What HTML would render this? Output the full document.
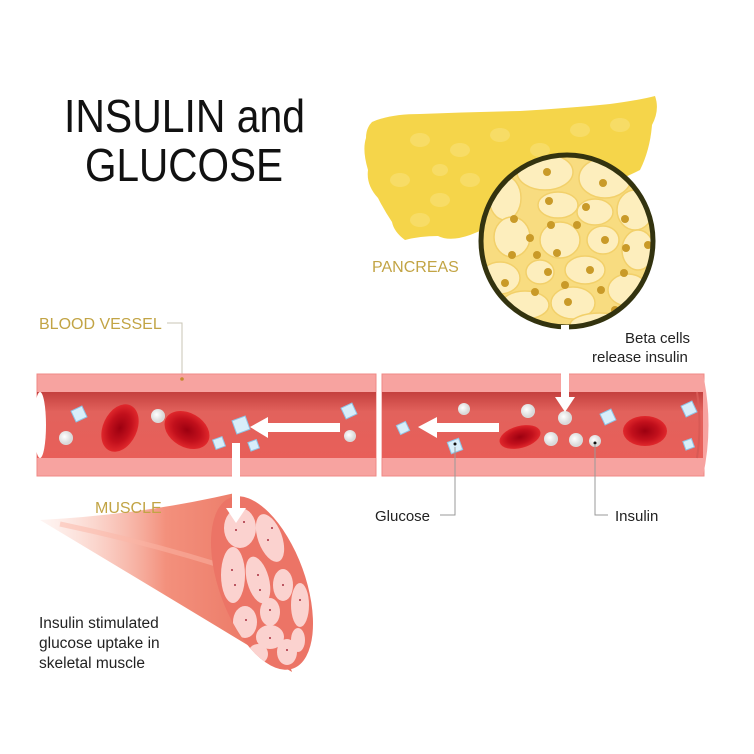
<!DOCTYPE html>
<html><head><meta charset="utf-8"><style>
html,body{margin:0;padding:0;background:#fff;}
svg{display:block;}
text{font-family:"Liberation Sans",sans-serif;}
</style></head><body>
<svg width="754" height="754" viewBox="0 0 754 754" xmlns="http://www.w3.org/2000/svg">
<defs>
<linearGradient id="cone" x1="0" y1="0" x2="1" y2="0">
<stop offset="0" stop-color="#fbd0c4" stop-opacity="0.2"/>
<stop offset="0.5" stop-color="#f3907c"/>
<stop offset="1" stop-color="#e8705e"/>
</linearGradient>
<linearGradient id="lumen" x1="0" y1="0" x2="0" y2="1">
<stop offset="0" stop-color="#c4403e"/>
<stop offset="0.3" stop-color="#e2625c"/>
<stop offset="1" stop-color="#e85f59"/>
</linearGradient>
<radialGradient id="rbc"><stop offset="0" stop-color="#9c0010"/><stop offset="0.6" stop-color="#c2101c"/><stop offset="1" stop-color="#e0282c"/></radialGradient>
<radialGradient id="ball" cx="0.4" cy="0.4"><stop offset="0" stop-color="#fff"/><stop offset="1" stop-color="#d9d9d9"/></radialGradient>
<clipPath id="cc"><circle cx="567" cy="241" r="86"/></clipPath>
<clipPath id="mc"><ellipse cx="262" cy="583" rx="43" ry="91" transform="rotate(-20 262 583)"/></clipPath>
</defs>

<text x="64" y="132" font-size="46" fill="#111" textLength="241" lengthAdjust="spacingAndGlyphs">INSULIN and</text>
<text x="85" y="181" font-size="46" fill="#111" textLength="198" lengthAdjust="spacingAndGlyphs">GLUCOSE</text>

<!-- pancreas -->
<path d="M372 122 Q390 114 420 114 Q470 112 520 111 Q570 108 610 104 Q640 100 655 96 Q660 110 652 125 Q650 150 640 170 Q600 190 520 215 L470 235 Q450 242 438 236 Q420 236 405 240 Q394 232 392 222 Q384 210 378 198 Q366 185 368 170 Q362 150 366 138 Q366 128 372 122Z" fill="#f5d54a"/>
<g fill="#f9e27a" opacity="0.6">
<ellipse cx="420" cy="140" rx="10" ry="7"/><ellipse cx="460" cy="150" rx="10" ry="7"/><ellipse cx="500" cy="135" rx="10" ry="7"/>
<ellipse cx="540" cy="150" rx="10" ry="7"/><ellipse cx="580" cy="130" rx="10" ry="7"/><ellipse cx="620" cy="125" rx="10" ry="7"/>
<ellipse cx="400" cy="180" rx="10" ry="7"/><ellipse cx="440" cy="200" rx="10" ry="7"/><ellipse cx="420" cy="220" rx="10" ry="7"/>
<ellipse cx="470" cy="180" rx="10" ry="7"/><ellipse cx="440" cy="170" rx="8" ry="6"/>
</g>
<text x="372" y="272" font-size="16" fill="#c2a445">PANCREAS</text>

<!-- zoom circle -->
<circle cx="567" cy="241" r="86" fill="#f8dc80"/>
<g clip-path="url(#cc)" fill="#fdeebd" stroke="#f2d06a" stroke-width="1.5">
<ellipse cx="545" cy="172" rx="28" ry="18"/><ellipse cx="605" cy="178" rx="26" ry="20"/>
<ellipse cx="505" cy="198" rx="16" ry="22"/><ellipse cx="558" cy="205" rx="20" ry="13"/>
<ellipse cx="595" cy="212" rx="18" ry="13"/><ellipse cx="635" cy="210" rx="18" ry="20"/>
<ellipse cx="512" cy="237" rx="18" ry="20"/><ellipse cx="560" cy="240" rx="20" ry="18"/>
<ellipse cx="603" cy="240" rx="16" ry="14"/><ellipse cx="638" cy="250" rx="16" ry="20"/>
<ellipse cx="500" cy="278" rx="20" ry="16"/><ellipse cx="540" cy="272" rx="14" ry="12"/>
<ellipse cx="585" cy="270" rx="20" ry="14"/><ellipse cx="628" cy="290" rx="20" ry="16"/>
<ellipse cx="525" cy="305" rx="24" ry="14"/><ellipse cx="573" cy="303" rx="22" ry="16"/>
<ellipse cx="600" cy="325" rx="30" ry="12"/>
</g>
<g fill="#c99a28">
<circle cx="547" cy="172" r="4"/><circle cx="603" cy="183" r="4"/><circle cx="549" cy="201" r="4"/>
<circle cx="586" cy="207" r="4"/><circle cx="514" cy="219" r="4"/><circle cx="551" cy="225" r="4"/>
<circle cx="577" cy="225" r="4"/><circle cx="625" cy="219" r="4"/><circle cx="530" cy="238" r="4"/>
<circle cx="605" cy="240" r="4"/><circle cx="512" cy="255" r="4"/><circle cx="537" cy="255" r="4"/>
<circle cx="557" cy="253" r="4"/><circle cx="590" cy="270" r="4"/><circle cx="626" cy="248" r="4"/>
<circle cx="505" cy="283" r="4"/><circle cx="548" cy="272" r="4"/><circle cx="565" cy="285" r="4"/>
<circle cx="535" cy="292" r="4"/><circle cx="601" cy="290" r="4"/><circle cx="624" cy="273" r="4"/>
<circle cx="568" cy="302" r="4"/><circle cx="615" cy="310" r="4"/><circle cx="648" cy="245" r="4"/>
</g>
<circle cx="567" cy="241" r="86" fill="none" stroke="#33330f" stroke-width="5"/>

<text x="625" y="343" font-size="15" fill="#222">Beta cells</text>
<text x="592" y="362" font-size="15" fill="#222">release insulin</text>

<text x="39" y="329" font-size="16" fill="#c2a445">BLOOD VESSEL</text>
<polyline points="167,323 182,323 182,379" stroke="#c8c4b4" stroke-width="1" fill="none"/>

<!-- vessel left -->
<rect x="37" y="374" width="339" height="102" fill="#f7a3a0" stroke="#ef8a86" stroke-width="1"/>
<rect x="37" y="392" width="339" height="66" fill="url(#lumen)"/>
<ellipse cx="40" cy="425" rx="6" ry="33" fill="#fff"/>
<!-- vessel right -->
<rect x="382" y="374" width="322" height="102" fill="#f7a3a0" stroke="#ef8a86" stroke-width="1"/>
<rect x="382" y="392" width="322" height="66" fill="url(#lumen)"/>
<path d="M703 374 Q714 425 703 476Z" fill="#f7a3a0"/>
<path d="M697 392 Q702 425 697 458" stroke="#d85a55" stroke-width="2" fill="none"/>
<circle cx="182" cy="379" r="1.8" fill="#c48a30"/>

<!-- RBCs -->
<ellipse cx="120" cy="428" rx="17" ry="25" transform="rotate(25 120 428)" fill="url(#rbc)"/>
<ellipse cx="187" cy="430" rx="24" ry="17" transform="rotate(30 187 430)" fill="url(#rbc)"/>
<ellipse cx="520" cy="437" rx="21" ry="11" transform="rotate(-15 520 437)" fill="url(#rbc)"/>
<ellipse cx="645" cy="431" rx="22" ry="15" fill="url(#rbc)"/>

<!-- insulin balls -->
<g fill="url(#ball)">
<circle cx="66" cy="438" r="7"/><circle cx="158" cy="416" r="7"/><circle cx="350" cy="436" r="6"/>
<circle cx="464" cy="409" r="6"/><circle cx="528" cy="411" r="7"/><circle cx="565" cy="418" r="7"/>
<circle cx="551" cy="439" r="7"/><circle cx="576" cy="440" r="7"/><circle cx="595" cy="441" r="6"/>
</g>
<circle cx="595" cy="443" r="1.5" fill="#111"/>
<!-- glucose cubes -->
<g fill="#d8eefa" stroke="#8fc4e6" stroke-width="1">
<rect x="73" y="408" width="12" height="12" transform="rotate(-25 79 414)"/>
<rect x="234" y="418" width="14" height="14" transform="rotate(-20 241 425)"/>
<rect x="214" y="438" width="10" height="10" transform="rotate(-20 219 443)"/>
<rect x="249" y="441" width="9" height="9" transform="rotate(-20 253 445)"/>
<rect x="343" y="405" width="12" height="12" transform="rotate(-25 349 411)"/>
<rect x="398" y="423" width="10" height="10" transform="rotate(-25 403 428)"/>
<rect x="449" y="440" width="12" height="12" transform="rotate(-20 455 446)"/>
<rect x="602" y="411" width="12" height="12" transform="rotate(-25 608 417)"/>
<rect x="683" y="403" width="12" height="12" transform="rotate(-25 689 409)"/>
<rect x="684" y="440" width="9" height="9" transform="rotate(-20 688 444)"/>
</g>
<circle cx="455" cy="444" r="1.5" fill="#111"/>

<!-- arrows -->
<g fill="#fff">
<rect x="268" y="423" width="72" height="9"/><polygon points="250,427 268,417 268,438"/>
<rect x="437" y="423" width="62" height="9"/><polygon points="418,427 437,417 437,438"/>
<rect x="561" y="325" width="8" height="73"/><polygon points="555,397 575,397 565,412"/>
</g>

<!-- labels lines -->
<polyline points="455,447 455,515 440,515" stroke="#999" stroke-width="1" fill="none"/>
<polyline points="595,444 595,515 608,515" stroke="#999" stroke-width="1" fill="none"/>
<text x="375" y="521" font-size="15" fill="#222">Glucose</text>
<text x="615" y="521" font-size="15" fill="#222">Insulin</text>

<!-- muscle -->
<path d="M40 520 Q140 515 235 493 L292 672 Q190 610 40 520Z" fill="url(#cone)"/>
<path d="M60 524 Q160 545 250 575" stroke="#fbb6a6" stroke-width="5" fill="none" opacity="0.5"/>
<ellipse cx="262" cy="583" rx="43" ry="91" transform="rotate(-20 262 583)" fill="#ec7466"/>
<g clip-path="url(#mc)" fill="#fbd2cf">
<ellipse cx="240" cy="528" rx="16" ry="20"/><ellipse cx="270" cy="538" rx="12" ry="25" transform="rotate(-20 270 538)"/>
<ellipse cx="233" cy="575" rx="12" ry="28"/><ellipse cx="258" cy="580" rx="11" ry="24" transform="rotate(-15 258 580)"/>
<ellipse cx="283" cy="585" rx="10" ry="16"/><ellipse cx="300" cy="605" rx="9" ry="22"/>
<ellipse cx="245" cy="622" rx="12" ry="16"/><ellipse cx="270" cy="612" rx="10" ry="14"/>
<ellipse cx="270" cy="637" rx="14" ry="12"/><ellipse cx="258" cy="654" rx="10" ry="10"/>
<ellipse cx="287" cy="652" rx="10" ry="13"/><ellipse cx="298" cy="640" rx="7" ry="12"/>
</g>
<g fill="#a83040">
<circle cx="236" cy="530" r="1"/><circle cx="244" cy="522" r="1"/><circle cx="268" cy="540" r="1"/><circle cx="272" cy="528" r="1"/>
<circle cx="232" cy="570" r="1"/><circle cx="235" cy="585" r="1"/><circle cx="258" cy="575" r="1"/><circle cx="260" cy="590" r="1"/>
<circle cx="300" cy="600" r="1"/><circle cx="246" cy="620" r="1"/><circle cx="270" cy="610" r="1"/><circle cx="270" cy="638" r="1"/>
<circle cx="287" cy="650" r="1"/><circle cx="283" cy="585" r="1"/>
</g>
<g fill="#fff">
<rect x="232" y="443" width="8" height="65"/>
<polygon points="226,508 246,508 236,523"/>
</g>

<text x="95" y="513" font-size="16" fill="#c2a445">MUSCLE</text>
<text x="39" y="628" font-size="15.5" fill="#222">Insulin stimulated</text>
<text x="39" y="648" font-size="15.5" fill="#222">glucose uptake in</text>
<text x="39" y="668" font-size="15.5" fill="#222">skeletal muscle</text>
</svg>
</body></html>
